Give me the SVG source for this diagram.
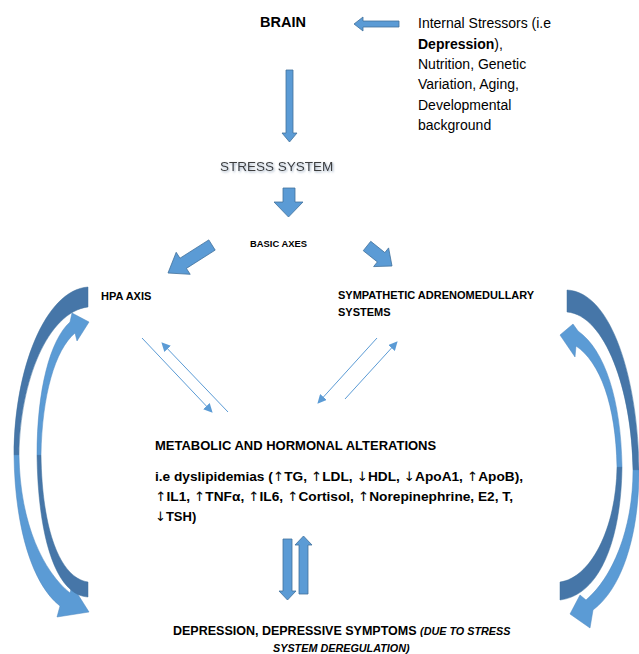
<svg xmlns="http://www.w3.org/2000/svg" width="639" height="654" viewBox="0 0 639 654">
<defs>
<style>
.t{font-family:"Liberation Sans",Arial,sans-serif;fill:#000}
.b{font-weight:bold}
.ar{font-family:"DejaVu Sans",sans-serif;font-weight:normal}
.blk{fill:#5b9bd5;stroke:#41719c;stroke-width:0.8}
.lt{fill:#5b9bd5;stroke:#4f89c0;stroke-width:0.5}
.dk{fill:#4676a8;stroke:#41719c;stroke-width:0.5}
.ln{stroke:#5b9bd5;stroke-width:1;fill:none;marker-end:url(#ah)}
</style>
<marker id="ah" viewBox="0 0 10 10" refX="9" refY="5" markerWidth="9" markerHeight="9" markerUnits="userSpaceOnUse" orient="auto">
<path d="M0,0 L10,5 L0,10 Z" fill="#5b9bd5"/>
</marker>
<filter id="sh" x="-10%" y="-30%" width="130%" height="180%">
<feDropShadow dx="1" dy="1.2" stdDeviation="0.8" flood-color="#8da0b8" flood-opacity="0.9"/>
</filter>
</defs>
<rect width="639" height="654" fill="#fff"/>

<g id="connectors">
<polygon class="blk" points="399,21 363,21 363,17 354,24 363,31 363,27 399,27"/>
<polygon class="blk" points="286,70 293,70 293,133 297,133 289.5,142 282,133 286,133"/>
<polygon class="blk" points="283,188 295,188 295,202 303,202 288.5,217 274,202 283,202"/>
<polygon class="blk" points="208.8,239.9 180,258.2 176.2,252.3 168,273 190.2,274.3 186.4,268.4 215.2,250.1"/>
<polygon class="blk" points="370.75,241.3 384.85,252.6 388.6,247.9 392,266 373.6,266.6 377.35,261.9 363.25,250.7"/>
<line class="ln" x1="142" y1="338" x2="212" y2="412"/>
<line class="ln" x1="228" y1="412" x2="162" y2="343"/>
<line class="ln" x1="377" y1="338" x2="318" y2="403"/>
<line class="ln" x1="345" y1="399" x2="397" y2="342"/>
<polygon class="blk" points="283,539 292,539 292,591 296,591 287.5,600 279,591 283,591"/>
<polygon class="blk" points="299,594 308,594 308,545 312,545 303.5,536 295,545 299,545"/>
<!-- left curved arrows -->
<path class="dk" d="M88,287 C45,290 14,370 14,455 L19,455 C20,380 48,312 88,307 Z"/>
<path class="lt" d="M14,455 C15,530 33,585 60,606 L57,617 L89,612 L72,585 L70,593 C44,572 20,525 19,455 Z"/>
<path class="dk" d="M37,455 C38,535 55,595 88,597 L88,582 C60,578 42,530 41,455 Z"/>
<path class="lt" d="M37,455 C37,390 50,340 70,322 L72,313 L89,322 L77,341 L75,333 C55,350 42,395 41,455 Z"/>
<!-- right curved arrows -->
<path class="dk" d="M567,290 C612,292 638,380 639,470 L633,470 C632,390 605,315 567,312 Z"/>
<path class="lt" d="M639,470 C639,540 620,590 593,610 L590,628 L570,614 L580,595 L586,600 C612,578 633,530 633,470 Z"/>
<path class="dk" d="M622,467 C621,540 600,595 560,600 L560,582 C590,578 616,530 617,467 Z"/>
<path class="lt" d="M622,467 C621,400 605,350 578,331 L573,324 L560,335 L575,357 L576,346 C600,362 616,405 617,467 Z"/>
</g>

<g id="brain"><text class="t b" x="260" y="27" font-size="14.5">BRAIN</text></g>
<g id="stressors">
<text class="t" x="418" y="28" font-size="14">Internal Stressors (i.e</text>
<text class="t" x="418" y="49" font-size="14"><tspan class="b">Depression</tspan>),</text>
<text class="t" x="418" y="69" font-size="14">Nutrition, Genetic</text>
<text class="t" x="418" y="89" font-size="14">Variation, Aging,</text>
<text class="t" x="418" y="110" font-size="14">Developmental</text>
<text class="t" x="418" y="130" font-size="14">background</text>
</g>
<g id="stress-system"><text class="t" x="220" y="171" font-size="13.5" style="fill:#3c3c3c" filter="url(#sh)">STRESS SYSTEM</text></g>
<g id="basic-axes"><text class="t b" x="250" y="247" font-size="9.4">BASIC AXES</text></g>
<g id="hpa-axis"><text class="t b" x="101" y="300" font-size="11">HPA AXIS</text></g>
<g id="sympathetic">
<text class="t b" x="338" y="299" font-size="11">SYMPATHETIC ADRENOMEDULLARY</text>
<text class="t b" x="338" y="316" font-size="11">SYSTEMS</text>
</g>
<g id="metabolic">
<text class="t b" x="155" y="450" font-size="13">METABOLIC AND HORMONAL ALTERATIONS</text>
<text class="t b" x="155" y="481" font-size="13" textLength="368" lengthAdjust="spacingAndGlyphs">i.e dyslipidemias (<tspan class="ar">↑</tspan>TG, <tspan class="ar">↑</tspan>LDL, <tspan class="ar">↓</tspan>HDL, <tspan class="ar">↓</tspan>ApoA1, <tspan class="ar">↑</tspan>ApoB),</text>
<text class="t b" x="155" y="501" font-size="13" textLength="358" lengthAdjust="spacingAndGlyphs"><tspan class="ar">↑</tspan>IL1, <tspan class="ar">↑</tspan>TNFα, <tspan class="ar">↑</tspan>IL6, <tspan class="ar">↑</tspan>Cortisol, <tspan class="ar">↑</tspan>Norepinephrine, E2, T,</text>
<text class="t b" x="155" y="521" font-size="13"><tspan class="ar">↓</tspan>TSH)</text>
</g>
<g id="depression">
<text class="t b" x="173" y="635"><tspan font-size="12.5">DEPRESSION, DEPRESSIVE SYMPTOMS </tspan><tspan font-size="10.8" font-style="italic">(DUE TO STRESS</tspan></text>
<text class="t b" x="273" y="652" font-size="10.8" font-style="italic">SYSTEM DEREGULATION)</text>
</g>
</svg>
